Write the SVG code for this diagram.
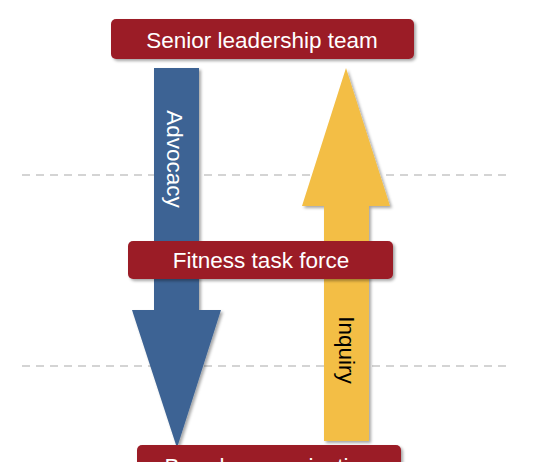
<svg xmlns="http://www.w3.org/2000/svg" width="534" height="462" viewBox="0 0 534 462">
<defs>
<filter id="sh" x="-10%" y="-10%" width="130%" height="130%">
<feDropShadow dx="2" dy="2" stdDeviation="1.5" flood-color="#000" flood-opacity="0.35"/>
</filter>
<style>
.box{fill:#9B1C28;filter:url(#sh)}
.lbl{font-family:"Liberation Sans",Arial,sans-serif;font-size:22.5px;fill:#fff;text-anchor:middle}
.dash{stroke:#aaaaaa;stroke-width:1.2;stroke-dasharray:8 6;fill:none}
.vt{font-family:"Liberation Sans",Arial,sans-serif;font-size:22.5px;text-anchor:middle}
</style>
</defs>
<g id="guides">
<line class="dash" x1="22" y1="175" x2="510" y2="175"/>
<line class="dash" x1="22" y1="366" x2="510" y2="366"/>
</g>
<g id="connectors">
<g id="advocacy">
<polygon points="154,68 199,68 199,310 221,310 177,448 132,310 154,310" fill="#3E6494" filter="url(#sh)"/>
<text class="vt" fill="#fff" transform="translate(167,159) rotate(90)">Advocacy</text>
</g>
<g id="inquiry">
<polygon points="346,68 390,206 369,206 369,441 324,441 324,206 302,206" fill="#F3BE45" filter="url(#sh)"/>
<text class="vt" fill="#000" transform="translate(339,350) rotate(90)">Inquiry</text>
</g>
</g>
<g id="senior">
<rect class="box" x="111" y="19" width="303" height="40" rx="5"/>
<text class="lbl" x="262" y="48">Senior leadership team</text>
</g>
<g id="taskforce">
<rect class="box" x="128" y="241" width="265" height="38" rx="5"/>
<text class="lbl" x="261" y="268">Fitness task force</text>
</g>
<g id="broader">
<rect class="box" x="137" y="445" width="264" height="40" rx="5"/>
<text class="lbl" x="269" y="474">Broader organization</text>
</g>
</svg>
